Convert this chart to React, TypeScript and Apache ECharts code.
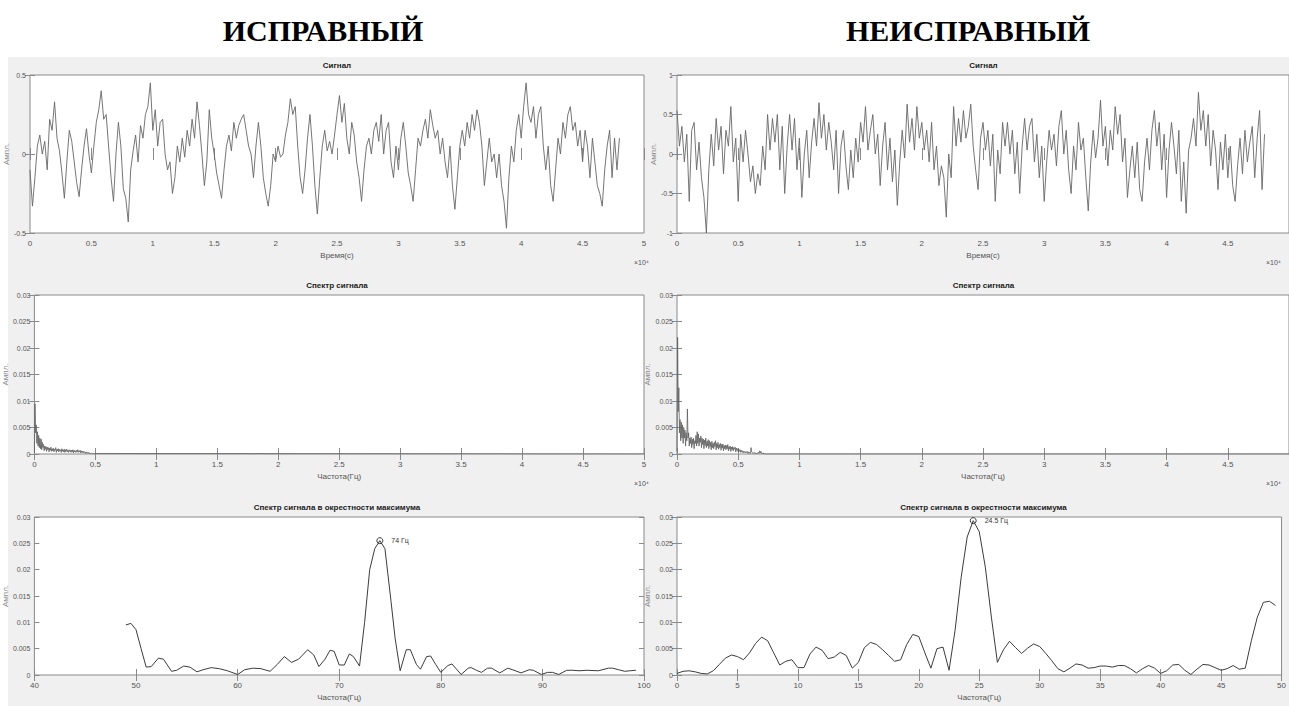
import React, { useEffect, useRef } from "react";
import * as echarts from "echarts";

// ---------- DATA ----------
const headers = ["ИСПРАВНЫЙ", "НЕИСПРАВНЫЙ"];
const titleSignal = "Сигнал";
const titleSpectrum = "Спектр сигнала";
const titleZoom = "Спектр сигнала в окрестности максимума";
const xNameTime = "Время(с)";
const xNameFreq = "Частота(Гц)";
const yName = "Ампл.";

// time step of the signal samples (units of 10^4 s on the axis)
const T_STEP = 0.02;
const signalGood = [
  -0.10, -0.33, -0.15, 0.05, 0.12, 0.00, 0.08, -0.10, 0.22, 0.15,
  0.33, 0.10, 0.02, -0.12, -0.28, -0.05, 0.15, 0.08, -0.05, -0.18,
  -0.27, -0.10, 0.05, 0.16, 0.00, -0.12, 0.05, 0.20, 0.28, 0.40,
  0.22, 0.25, 0.05, -0.15, -0.30, 0.00, 0.20, 0.05, -0.22, -0.28,
  -0.43, -0.10, 0.02, 0.12, -0.05, 0.18, 0.10, 0.25, 0.30, 0.45,
  0.15, 0.28, 0.05, 0.20, 0.22, 0.00, -0.10, -0.05, -0.25, -0.15,
  0.05, -0.05, 0.10, -0.02, 0.15, 0.05, 0.22, 0.10, 0.33, 0.18,
  0.00, -0.20, -0.05, 0.28, 0.10, 0.00, -0.12, -0.20, -0.28, -0.10,
  0.05, 0.12, 0.02, 0.20, 0.10, 0.18, 0.22, 0.25, 0.15, 0.05,
  0.00, -0.15, 0.05, 0.20, 0.05, -0.15, -0.25, -0.33, -0.20, 0.00,
  -0.05, 0.05, -0.02, 0.00, 0.12, 0.20, 0.35, 0.25, 0.30, 0.05,
  -0.15, -0.25, -0.10, 0.10, 0.25, 0.05, -0.20, -0.38, -0.15, 0.05,
  0.15, 0.02, 0.08, 0.00, 0.12, 0.25, 0.37, 0.20, 0.32, 0.10,
  0.00, 0.20, 0.12, -0.05, -0.15, -0.30, -0.10, 0.05, 0.10, 0.00,
  0.15, 0.20, 0.08, 0.25, 0.00, 0.15, 0.20, -0.05, -0.15, 0.05,
  -0.10, 0.10, 0.20, 0.05, -0.12, -0.20, -0.30, -0.10, 0.10, 0.05,
  0.15, 0.22, 0.10, 0.28, 0.18, 0.10, 0.15, 0.00, 0.10, -0.05,
  -0.15, 0.05, -0.20, -0.35, -0.15, 0.05, 0.15, 0.05, 0.20, 0.10,
  0.25, 0.15, 0.28, 0.20, 0.05, -0.20, -0.05, 0.10, -0.05, 0.00,
  -0.15, 0.00, -0.20, -0.30, -0.47, -0.15, 0.05, -0.05, 0.15, 0.25,
  0.10, 0.30, 0.45, 0.25, 0.20, 0.30, 0.10, 0.25, 0.30, 0.05,
  -0.10, 0.05, -0.20, -0.30, -0.10, 0.10, 0.00, 0.20, 0.10, 0.25,
  0.30, 0.15, 0.20, 0.05, 0.15, -0.05, 0.15, 0.05, -0.15, 0.10,
  -0.05, -0.20, -0.25, -0.33, -0.10, 0.05, 0.15, -0.15, 0.10, -0.10,
  0.10,
];
const signalBad = [
  0.55, 0.10, 0.35, -0.10, 0.25, -0.60, 0.30, 0.40, -0.20, 0.15,
  -0.30, -0.55, -1.00, -0.20, 0.25, -0.15, 0.45, 0.05, 0.35, -0.25,
  0.30, 0.10, 0.60, -0.10, 0.20, -0.60, 0.25, -0.10, 0.30, 0.00,
  -0.35, -0.15, -0.50, -0.25, -0.40, 0.10, -0.20, 0.50, 0.05, 0.45,
  0.15, 0.50, -0.20, 0.35, -0.50, 0.10, 0.50, 0.05, 0.45, -0.20,
  0.20, -0.55, 0.00, 0.30, -0.30, 0.15, 0.45, 0.10, 0.65, 0.20,
  0.50, 0.05, 0.40, 0.15, -0.20, 0.30, -0.50, 0.10, 0.30, -0.15,
  -0.45, 0.05, -0.30, 0.20, -0.10, 0.40, 0.15, 0.60, 0.05, 0.30,
  0.50, 0.00, 0.25, -0.40, 0.10, 0.40, -0.20, 0.20, -0.35, 0.05,
  -0.65, -0.10, 0.30, -0.05, 0.63, 0.15, 0.45, 0.05, 0.60, 0.20,
  0.40, 0.05, 0.30, -0.10, 0.40, -0.20, 0.10, -0.40, -0.15, -0.30,
  -0.80, 0.00, -0.30, 0.60, 0.10, 0.45, 0.15, 0.55, 0.20, 0.35,
  0.63, 0.10, -0.20, -0.45, 0.20, 0.40, 0.05, 0.30, -0.15, 0.25,
  -0.60, 0.05, -0.25, 0.40, 0.10, 0.40, 0.00, 0.30, -0.25, 0.15,
  -0.50, 0.10, 0.45, 0.05, 0.35, 0.45, -0.10, 0.25, -0.30, 0.10,
  -0.60, -0.10, 0.30, 0.05, 0.25, -0.15, 0.35, 0.55, 0.00, 0.30,
  -0.20, -0.50, 0.10, -0.20, 0.40, 0.05, 0.20, -0.30, -0.72, -0.10,
  0.30, -0.05, 0.20, 0.68, 0.10, 0.35, -0.15, 0.30, 0.05, 0.60,
  0.25, 0.50, -0.10, 0.20, -0.55, -0.20, 0.10, -0.30, 0.15, -0.45,
  -0.60, -0.10, 0.20, -0.20, 0.30, 0.55, 0.10, 0.40, -0.20, 0.25,
  -0.55, 0.05, 0.40, 0.10, -0.25, 0.30, -0.60, -0.10, -0.75, 0.05,
  0.20, 0.45, 0.10, 0.78, 0.30, 0.55, 0.10, 0.50, -0.15, 0.30,
  0.05, -0.45, 0.15, -0.20, 0.25, -0.30, 0.10, -0.40, -0.60, -0.15,
  0.20, -0.25, 0.30, -0.10, 0.15, 0.35, -0.30, 0.20, 0.55, -0.45,
  0.25,
];

// full spectrum (frequency step in units of 10^4 Hz)
const SPEC_STEP = 0.005;
const spectrumGood = [
  0.0002, 0.0095, 0.0040, 0.0055, 0.0020, 0.0042, 0.0015, 0.0035, 0.0012, 0.0030,
  0.0010, 0.0028, 0.0008, 0.0022, 0.0012, 0.0018, 0.0006, 0.0015, 0.0009, 0.0014,
  0.0005, 0.0013, 0.0008, 0.0012, 0.0004, 0.0011, 0.0007, 0.0013, 0.0005, 0.0010,
  0.0006, 0.0011, 0.0004, 0.0009, 0.0007, 0.0012, 0.0003, 0.0009, 0.0006, 0.0010,
  0.0004, 0.0009, 0.0006, 0.0008, 0.0003, 0.0010, 0.0005, 0.0008, 0.0004, 0.0009,
  0.0003, 0.0008, 0.0005, 0.0009, 0.0004, 0.0007, 0.0003, 0.0008, 0.0005, 0.0007,
  0.0003, 0.0007, 0.0004, 0.0008, 0.0002, 0.0007, 0.0004, 0.0006, 0.0003, 0.0007,
  0.0004, 0.0008, 0.0003, 0.0006, 0.0004, 0.0007, 0.0002, 0.0006, 0.0003, 0.0005,
  0.0002, 0.0005, 0.0003, 0.0004, 0.0001, 0.0004, 0.0002, 0.0003, 0.0001, 0.0003,
  0.0001, 0.0002, 0.0001, 0.0002, 0.0001, 0.0001, 0.0000, 0.0001, 0.0000, 0.0001,
];
const spectrumBad = [
  0.0005, 0.0220, 0.0080, 0.0125, 0.0040, 0.0065, 0.0025, 0.0060, 0.0030, 0.0055,
  0.0020, 0.0050, 0.0030, 0.0045, 0.0015, 0.0040, 0.0025, 0.0085, 0.0030, 0.0040,
  0.0015, 0.0030, 0.0020, 0.0032, 0.0012, 0.0028, 0.0018, 0.0030, 0.0010, 0.0025,
  0.0020, 0.0035, 0.0015, 0.0042, 0.0020, 0.0038, 0.0015, 0.0030, 0.0022, 0.0034,
  0.0012, 0.0030, 0.0018, 0.0028, 0.0010, 0.0026, 0.0016, 0.0030, 0.0012, 0.0024,
  0.0015, 0.0027, 0.0010, 0.0025, 0.0014, 0.0022, 0.0008, 0.0024, 0.0012, 0.0020,
  0.0010, 0.0022, 0.0014, 0.0025, 0.0008, 0.0020, 0.0012, 0.0022, 0.0009, 0.0018,
  0.0012, 0.0020, 0.0007, 0.0018, 0.0011, 0.0019, 0.0006, 0.0016, 0.0010, 0.0017,
  0.0008, 0.0016, 0.0010, 0.0018, 0.0006, 0.0014, 0.0009, 0.0015, 0.0005, 0.0013,
  0.0008, 0.0014, 0.0006, 0.0012, 0.0009, 0.0013, 0.0004, 0.0011, 0.0007, 0.0010,
  0.0004, 0.0009, 0.0005, 0.0008, 0.0003, 0.0007, 0.0004, 0.0006, 0.0002, 0.0005,
  0.0003, 0.0005, 0.0002, 0.0004, 0.0003, 0.0005, 0.0001, 0.0004, 0.0002, 0.0003,
  0.0001, 0.0012, 0.0004, 0.0003, 0.0001, 0.0002, 0.0001, 0.0003, 0.0001, 0.0002,
  0.0001, 0.0002, 0.0001, 0.0003, 0.0001, 0.0006, 0.0002, 0.0005, 0.0001, 0.0002,
  0.0001, 0.0002, 0.0000,
];
// the spectrum stays at zero up to the end of the axis
const spectrumTailFreq = [5];
const spectrumTailAmp = [0];

// spectrum near the maximum — good unit (Hz, amplitude)
const zoomFreqGood = [
  49.0, 49.5, 50.0, 50.5, 51.0, 51.5, 52.2, 52.7, 53.5, 54.0,
  54.7, 55.3, 56.0, 56.6, 57.4, 58.2, 59.0, 60.0, 60.7, 61.5,
  62.3, 63.2, 63.9, 64.6, 65.3, 66.0, 66.9, 67.5, 68.0, 68.6,
  69.1, 69.5, 70.0, 70.5, 71.0, 71.4, 72.0, 72.5, 73.0, 73.5,
  74.0, 74.5, 75.1, 75.5, 76.0, 76.6, 77.0, 77.6, 78.0, 78.6,
  79.0, 79.5, 80.0, 80.7, 81.1, 81.5, 82.0, 82.7, 83.0, 83.5,
  84.0, 84.6, 85.0, 85.8, 86.6, 87.2, 87.9, 88.7, 89.1, 89.9,
  90.5, 91.0, 91.6, 92.4, 93.0, 93.6, 94.4, 95.5, 96.5, 96.9,
  97.5, 98.1, 98.6, 99.2,
];
const zoomAmpGood = [
  0.0095, 0.0098, 0.0086, 0.0050, 0.0015, 0.0016, 0.0032, 0.0030, 0.0007, 0.0009,
  0.0017, 0.0015, 0.0006, 0.0010, 0.0014, 0.0012, 0.0008, 0.0001, 0.0010, 0.0013,
  0.0012, 0.0007, 0.0020, 0.0035, 0.0024, 0.0030, 0.0048, 0.0038, 0.0016, 0.0030,
  0.0047, 0.0045, 0.0019, 0.0019, 0.0040, 0.0035, 0.0017, 0.0100, 0.0200, 0.0240,
  0.0255, 0.0240, 0.0140, 0.0070, 0.0008, 0.0048, 0.0048, 0.0020, 0.0011, 0.0035,
  0.0036, 0.0020, 0.0005, 0.0018, 0.0021, 0.0012, 0.0001, 0.0013, 0.0014, 0.0009,
  0.0005, 0.0013, 0.0013, 0.0004, 0.0013, 0.0009, 0.0004, 0.0010, 0.0009, 0.0001,
  0.0005, 0.0005, 0.0001, 0.0009, 0.0009, 0.0008, 0.0009, 0.0008, 0.0013, 0.0013,
  0.0010, 0.0007, 0.0008, 0.0009,
];
// spectrum near the maximum — faulty unit, 0.5 Hz step from 0 Hz
const ZOOM_STEP_BAD = 0.5;
const zoomAmpBad = [
  0.0003, 0.0007, 0.0008, 0.0006, 0.0003, 0.0002, 0.0008, 0.0020, 0.0032, 0.0038,
  0.0035, 0.0029, 0.0042, 0.0060, 0.0072, 0.0065, 0.0042, 0.0019, 0.0026, 0.0029,
  0.0014, 0.0014, 0.0040, 0.0053, 0.0047, 0.0031, 0.0034, 0.0043, 0.0037, 0.0013,
  0.0024, 0.0052, 0.0062, 0.0058, 0.0048, 0.0037, 0.0026, 0.0029, 0.0058, 0.0077,
  0.0073, 0.0042, 0.0013, 0.0050, 0.0053, 0.0009, 0.0085, 0.0185, 0.0262, 0.0293,
  0.0272, 0.0205, 0.0110, 0.0024, 0.0048, 0.0064, 0.0052, 0.0041, 0.0051, 0.0059,
  0.0054, 0.0041, 0.0027, 0.0012, 0.0006, 0.0013, 0.0021, 0.0019, 0.0013, 0.0014,
  0.0017, 0.0017, 0.0015, 0.0018, 0.0018, 0.0012, 0.0004, 0.0012, 0.0018, 0.0013,
  0.0003, 0.0008, 0.0019, 0.0020, 0.0009, 0.0001, 0.0011, 0.0020, 0.0019, 0.0014,
  0.0009, 0.0012, 0.0018, 0.0011, 0.0013, 0.0065, 0.0110, 0.0138, 0.0140, 0.0132,
];
const peakFreq = [74, 24.5];
const peakAmp = [0.0255, 0.0293];
const peakLabels = ["74 Гц", "24.5 Гц"];

// ---------- LAYOUT / STYLE ----------
const FONT = "'Liberation Sans Narrow', 'Liberation Sans', Arial, sans-serif";
const AX = "#8a8a8a";
const LBL = "#555";
const COLS = [
  { left: 30, width: 614 },
  { left: 677, width: 613 },
];
const ROWS = [
  { top: 75, height: 158 },
  { top: 295, height: 159 },
  { top: 517, height: 158 },
];

const fmt = (v: number) => String(+v.toFixed(4));

function buildOption() {
  const grid: any[] = [];
  const xAxis: any[] = [];
  const yAxis: any[] = [];
  const series: any[] = [];
  const graphic: any[] = [];

  const panels: any[] = [];
  for (let c = 0; c < 2; c++) {
    panels.push({
      c, r: 0, title: titleSignal, xName: xNameTime,
      x: { min: 0, max: 5, interval: 0.5 },
      y: c === 0 ? { min: -0.5, max: 0.5, interval: 0.5 } : { min: -1, max: 1, interval: 0.5 },
      data: (c === 0 ? signalGood : signalBad).map((v, i) => [i * T_STEP, v]),
      color: "#666666", width: 0.9, exp: true,
    });
    const spec = c === 0 ? spectrumGood : spectrumBad;
    panels.push({
      c, r: 1, title: titleSpectrum, xName: xNameFreq,
      x: { min: 0, max: 5, interval: 0.5 },
      y: { min: 0, max: 0.03, interval: 0.005 },
      data: spec.map((v, i) => [i * SPEC_STEP, v]).concat(
        spectrumTailFreq.map((f, i) => [f, spectrumTailAmp[i]])
      ),
      color: "#5e5e5e", width: 0.8, exp: true,
    });
    panels.push({
      c, r: 2, title: titleZoom, xName: xNameFreq,
      x: c === 0 ? { min: 40, max: 100, interval: 10 } : { min: 0, max: 50, interval: 5 },
      y: { min: 0, max: 0.03, interval: 0.005 },
      data: c === 0
        ? zoomFreqGood.map((f, i) => [f, zoomAmpGood[i]])
        : zoomAmpBad.map((v, i) => [i * ZOOM_STEP_BAD, v]),
      color: "#3c3c3c", width: 1, exp: false,
      peak: [[peakFreq[c], peakAmp[c]]], peakLabel: peakLabels[c],
    });
  }

  panels.forEach((p, gi) => {
    const col = COLS[p.c];
    const row = ROWS[p.r];
    grid.push({
      left: col.left, top: row.top, width: col.width, height: row.height,
      show: true, backgroundColor: "#ffffff", borderColor: AX, borderWidth: 1,
      containLabel: false,
    });
    const tick = (len: number) => ({ show: true, inside: true, length: len, lineStyle: { color: AX, width: 1 } });
    const hideMax = p.c === 1 && p.r < 2;
    xAxis.push({
      gridIndex: gi, type: "value", position: "bottom", ...p.x,
      axisLine: { show: false }, axisTick: tick(6), splitLine: { show: false },
      axisLabel: { fontSize: 8, color: LBL, margin: 6, fontFamily: FONT, formatter: fmt, showMaxLabel: !hideMax },
      name: p.xName, nameLocation: "middle", nameGap: 18,
      nameTextStyle: { fontSize: 8, color: LBL, fontFamily: FONT },
    });
    xAxis.push({
      gridIndex: gi, type: "value", position: "top", ...p.x,
      axisLine: { show: false }, axisTick: tick(6), splitLine: { show: false },
      axisLabel: { show: false },
    });
    yAxis.push({
      gridIndex: gi, type: "value", position: "left", ...p.y,
      axisLine: { show: false }, axisTick: tick(5), splitLine: { show: false },
      axisLabel: { fontSize: 7, color: LBL, margin: 4, fontFamily: FONT, formatter: fmt },
      name: yName, nameLocation: "middle", nameRotate: 90, nameGap: p.c === 0 ? 16 : 20,
      nameTextStyle: { fontSize: 8, color: "#888", fontFamily: FONT },
    });
    yAxis.push({
      gridIndex: gi, type: "value", position: "right", ...p.y,
      axisLine: { show: false }, axisTick: tick(5), splitLine: { show: false },
      axisLabel: { show: false },
    });
    series.push({
      type: "line", xAxisIndex: gi * 2, yAxisIndex: gi * 2, data: p.data,
      showSymbol: false, symbol: "none", silent: true,
      lineStyle: { color: p.color, width: p.width }, z: 3,
    });
    if (p.peak) {
      series.push({
        type: "scatter", xAxisIndex: gi * 2, yAxisIndex: gi * 2, data: p.peak,
        symbol: "circle", symbolSize: 6, color: "#333333", silent: true,
        itemStyle: { color: "rgba(255,255,255,0)", borderColor: "#333", borderWidth: 1, opacity: 1 },
        label: {
          show: true, position: "right", distance: 8,
          formatter: p.peakLabel,
          fontSize: 7, fontFamily: FONT,
          color: "#333333", textBorderColor: "transparent", textBorderWidth: 0,
          textShadowColor: "transparent", textShadowBlur: 0,
        },
        labelLayout: { hideOverlap: false },
        z: 10,
      });
    }
    // panel title
    graphic.push({
      type: "text",
      x: col.left + col.width / 2, y: row.top - 10,
      style: { text: p.title, font: `bold 8px ${FONT}`, fill: "#222", textAlign: "center", textVerticalAlign: "middle" },
    });
    if (p.exp) {
      graphic.push({
        type: "text", x: col.left + col.width - (p.c === 0 ? 10 : 24), y: row.top + row.height + 29,
        style: { text: "×10⁴", font: `7px ${FONT}`, fill: LBL, textAlign: "left", textVerticalAlign: "middle" },
      });
    }
  });

  // big headers
  headers.forEach((h, i) => {
    graphic.push({
      type: "text", x: i === 0 ? 323 : 968, y: 30,
      style: { text: h, font: `bold 30px 'Liberation Serif', 'Times New Roman', serif`, fill: "#000", textAlign: "center", textVerticalAlign: "middle" },
    });
  });

  return {
    animation: false,
    backgroundColor: "transparent",
    grid, xAxis, yAxis, series, graphic,
  };
}

export default function App() {
  const ref = useRef<HTMLDivElement>(null);
  useEffect(() => {
    if (!ref.current) return;
    const chart = echarts.init(ref.current, undefined, { renderer: "svg" });
    chart.setOption(buildOption() as any);
    return () => chart.dispose();
  }, []);
  return (
    <div style={{ position: "absolute", left: 0, top: 0, width: 1289, height: 706, background: "#ffffff", overflow: "hidden" }}>
      <div style={{ position: "absolute", left: 8, top: 57, width: 1281, height: 649, background: "#f0f0f0" }} />
      <div ref={ref} style={{ position: "absolute", left: 0, top: 0, width: 1289, height: 706 }} />
    </div>
  );
}
